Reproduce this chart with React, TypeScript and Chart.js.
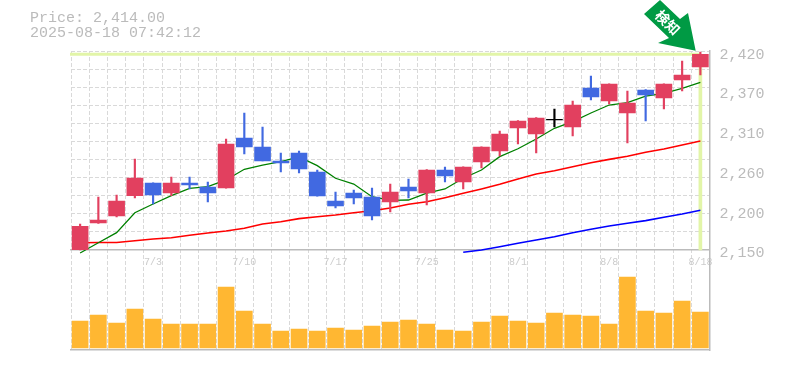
import React, { useEffect, useRef } from "react";
import { Chart, registerables } from "chart.js";

Chart.register(...registerables);

const categories = ["6/27","6/30","7/1","7/2","7/3","7/4","7/7","7/8","7/9","7/10","7/11","7/14","7/15","7/16","7/17","7/18","7/22","7/23","7/24","7/25","7/28","7/29","7/30","7/31","8/1","8/4","8/5","8/6","8/7","8/8","8/12","8/13","8/14","8/15","8/18"];
const opens = [2150.5,2186.6,2196.1,2223.7,2240.9,2227.3,2240.9,2235.5,2234.1,2302,2289.8,2270.8,2281.6,2255.8,2216.5,2227.3,2221.9,2215.1,2235.5,2227.3,2258.5,2242.3,2269.4,2284.3,2315.5,2307.4,2326.4,2316.9,2369.8,2352.2,2335.9,2367.1,2356.2,2380.7,2398.3];
const highs = [2185,2221.9,2224.6,2273.5,2241,2249,2249,2242.3,2300.6,2335.9,2316.9,2281.6,2284.3,2258.5,2228.7,2231.4,2234.1,2239.5,2246.3,2259,2262.6,2263,2290,2311.5,2325.5,2329.5,2341.3,2352.2,2386.1,2375.5,2365.7,2367.5,2375.5,2406.4,2418.6];
const lows = [2150,2186,2194.8,2220.6,2212.4,2223.7,2232.8,2215.1,2234,2280.3,2270.8,2255.8,2254.5,2223,2207,2212.4,2190.7,2201.6,2220.6,2211,2242.3,2232.8,2261.3,2277.5,2293.8,2281.6,2316.9,2304.7,2353.5,2348.1,2295.2,2325,2341.3,2365.7,2387.4];
const closes = [2182,2190.7,2216.5,2247.7,2224.6,2240.9,2238.2,2227.3,2293.8,2289.8,2270.8,2268,2259.9,2223.3,2209.7,2220.6,2196.1,2228.7,2230,2258.5,2250.4,2262.6,2289.8,2307.4,2325,2329.1,2327.4,2346.7,2357.6,2375.2,2349.4,2360.3,2375.2,2387.4,2415.6];
const maShort = [2145.9,2159.9,2173.5,2200.6,2212.4,2223.7,2233.7,2235.9,2245,2259.5,2265.3,2269.8,2276.2,2264.4,2247.3,2239.5,2222.3,2217.4,2217.8,2227.3,2232.8,2247.3,2258.5,2276.6,2287.4,2300.6,2315.1,2324.1,2335.9,2346.7,2349.9,2358.9,2362.6,2369.4,2377.5];
const maMid = [2159.9,2160.2,2160.2,2162.6,2164.9,2166.7,2169.9,2173.1,2175.8,2179.4,2185.3,2188.4,2192.5,2195.2,2197.5,2200.6,2203.3,2207,2212,2215.5,2221,2226.9,2232.8,2239.1,2246.3,2253.1,2257.6,2263,2268.4,2273,2277.1,2282.6,2287,2292.5,2297.9];
const maLong = [null,null,null,null,null,null,null,null,null,null,null,null,null,null,null,null,null,null,null,null,null,2146.9,2150,2154.5,2159.1,2163.6,2168,2173.5,2178.1,2182.6,2186.2,2189.8,2194.4,2198.8,2203.9];
const volumes = [270,330,250,390,290,240,240,240,610,370,240,170,190,170,200,180,220,260,280,240,180,170,260,320,270,250,350,330,320,240,710,370,350,470,360];
const priceTickValues = [2150,2204,2258,2312,2366,2420];
const priceTickLabels = ["2,150","2,200","2,260","2,310","2,370","2,420"];
const gridValues = [2150,2174.55,2199.09,2223.64,2248.18,2272.73,2297.27,2321.82,2346.36,2370.91,2395.45,2420];
const labelledDates = ["7/3","7/10","7/17","7/25","8/1","8/8","8/18"];
const titleLines = ["Price: 2,414.00","2025-08-18 07:42:12"];
const lastPriceLevel = 2415.6;
const badgeText = "検知";

const RED = "#E2405F";
const BLUE = "#4169E1";
const BLACK = "#000000";
const colors = categories.map((_, i) => {
  if (categories[i] === "8/5") return BLACK;
  return closes[i] >= opens[i] ? RED : BLUE;
});

const overlay = {
  id: "overlay",
  beforeDatasetsDraw(chart: any) {
    const { ctx, chartArea, scales } = chart;
    const y = scales.y.getPixelForValue(lastPriceLevel);
    const x = scales.x.getPixelForValue(categories.length - 1);
    ctx.save();
    ctx.fillStyle = "#E2F5A8";
    ctx.fillRect(chartArea.left - 1, y - 1.5, x - chartArea.left + 1, 3);
    ctx.restore();
  },
  afterDraw(chart: any) {
    const { ctx } = chart;
    ctx.save();
    ctx.fillStyle = "#BBBBBB";
    ctx.font = "15px 'Liberation Mono'";
    ctx.textBaseline = "middle";
    ctx.textAlign = "left";
    ctx.fillText(titleLines[0], 30, 18);
    ctx.fillText(titleLines[1], 30, 33);
    ctx.fillStyle = "#009A44";
    ctx.beginPath();
    ctx.moveTo(660, 0);
    ctx.lineTo(680, 19);
    ctx.lineTo(688, 13);
    ctx.lineTo(695.7, 50.7);
    ctx.lineTo(658, 43);
    ctx.lineTo(669, 38);
    ctx.lineTo(644, 14);
    ctx.closePath();
    ctx.fill();
    ctx.translate(667.7, 22.4);
    ctx.rotate(Math.PI / 4);
    ctx.fillStyle = "#FFFFFF";
    ctx.font = "bold 14px 'Noto Sans CJK JP'";
    ctx.textAlign = "center";
    ctx.fillText(badgeText, 0, 0);
    ctx.restore();
  },
};

export default function App() {
  const ref = useRef<HTMLCanvasElement>(null);
  useEffect(() => {
    const chart = new Chart(ref.current!, {
      type: "bar",
      plugins: [overlay],
      data: {
        labels: categories,
        datasets: [
          { type: "bar", label: "Volume", data: volumes, yAxisID: "yVol", backgroundColor: "#FFB732", barThickness: 16, grouped: false, order: 3 },
          { type: "bar", label: "Last", data: categories.map((_, i) => i === categories.length - 1 ? [2150, lastPriceLevel] : null), backgroundColor: "#E2F5A8", barThickness: 3, grouped: false, order: 7 },
          { type: "line", label: "MA5", data: maShort, borderColor: "#008000", borderWidth: 1.3, pointRadius: 0, tension: 0, order: 4 },
          { type: "line", label: "MA25", data: maMid, borderColor: "#FF0000", borderWidth: 1.6, pointRadius: 0, tension: 0, order: 5 },
          { type: "line", label: "MA75", data: maLong, borderColor: "#0000FF", borderWidth: 1.6, pointRadius: 0, tension: 0, order: 6 },
          { type: "bar", label: "Wick", data: lows.map((l, i) => [l, highs[i]]), backgroundColor: colors, barThickness: 1.5, grouped: false, order: 2 },
          { type: "bar", label: "Body", data: opens.map((o, i) => [o, closes[i]]), backgroundColor: colors, barThickness: 16, grouped: false, order: 1 },
        ] as any,
      },
      options: {
        animation: false,
        responsive: false,
        layout: { padding: { left: 71, top: 51, right: 0, bottom: 20 } },
        plugins: { legend: { display: false }, tooltip: { enabled: false } },
        scales: {
          x: {
            position: { y: 2150 } as any,
            offset: true,
            grid: { color: "#D9D9D9", tickLength: 0, offset: true, drawTicks: false, lineWidth: 1 } as any,
            border: { color: "#BBBBBB", dash: [4, 2], dashOffset: 0, width: 1.5 } as any,
            ticks: {
              autoSkip: false, maxRotation: 0, padding: 6, color: "#CCCCCC",
              font: { family: "'Liberation Mono'", size: 10 },
              callback(_: any, i: number) { return labelledDates.includes(categories[i]) ? categories[i] : ""; },
            },
          },
          xBottom: {
            axis: "x", type: "category", position: "bottom", offset: true,
            grid: { display: false },
            border: { color: "#BBBBBB", width: 1.5 },
            ticks: { display: false },
            afterFit(s: any) { s.height = 0; },
          } as any,
          y: {
            position: "left", min: 2014.3, max: 2420,
            grid: { color: "#D9D9D9", drawTicks: false },
            border: { display: false, dash: [4, 2] },
            ticks: { display: false },
            afterBuildTicks(s: any) { s.ticks = gridValues.map((value) => ({ value })); },
            afterFit(s: any) { s.width = 0; },
          } as any,
          yLabels: {
            position: "right", min: 2019.1, max: 2424.8,
            grid: { display: false, drawTicks: false },
            border: { color: "#BBBBBB", width: 1.5 },
            ticks: {
              padding: 10, color: "#BBBBBB",
              font: { family: "'Liberation Mono'", size: 15 },
              callback(v: any) { return priceTickLabels[priceTickValues.indexOf(v)] ?? ""; },
            },
            afterBuildTicks(s: any) { s.ticks = priceTickValues.map((value) => ({ value })); },
            afterFit(s: any) { s.width = 75.5; },
          } as any,
          yVol: { display: false, min: -20, max: 2970 },
        },
      },
    });
    return () => chart.destroy();
  }, []);
  return (
    <div style={{ position: "absolute", left: 0, top: 0 }}>
      <canvas ref={ref} width={785} height={370} style={{ display: "block" }} />
    </div>
  );
}
